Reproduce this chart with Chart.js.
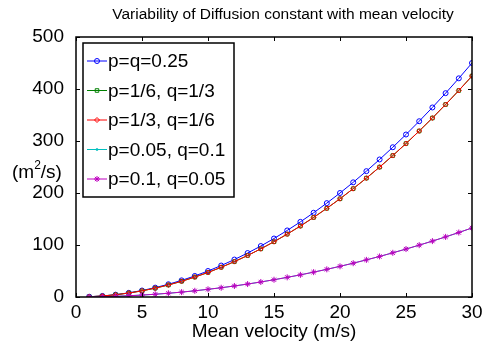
<!DOCTYPE html>
<html>
<head>
<meta charset="utf-8">
<script src="https://cdn.jsdelivr.net/npm/chart.js@4.4.1/dist/chart.umd.min.js"></script>
<style>
  html, body { margin: 0; padding: 0; background: #fff; }
  #wrap { width: 490px; height: 344px; }
</style>
</head>
<body>
<div id="wrap"><canvas id="grafico" width="490" height="344"></canvas></div>
<script>
// velocidade media (m/s)
const velocidades = [1, 2, 3, 4, 5, 6, 7, 8, 9, 10, 11, 12, 13, 14, 15,
  16, 17, 18, 19, 20, 21, 22, 23, 24, 25, 26, 27, 28, 29, 30];

// valores (m^2/s)
const serieQuarto = [0.5, 2, 4.5, 8, 12.5, 18, 24.5, 32, 40.5, 50, 60.5, 72, 84.5, 98, 112.5,
  128, 144.5, 162, 180.5, 200, 220.5, 242, 264.5, 288, 312.5, 338, 364.5, 392, 420.5, 450];
const serieSextoTerco = [0.47, 1.9, 4.3, 7.6, 11.8, 17, 23.1, 30.2, 38.3, 47.2, 57.1, 68, 79.8, 92.6, 106.3,
  120.9, 136.5, 153, 170.5, 188.9, 208.3, 228.6, 249.8, 272, 295.1, 319.2, 344.2, 370.2, 397.1, 425];
const serieTercoSexto = serieSextoTerco.slice();
const serieBaixaA = [0.15, 0.6, 1.3, 2.4, 3.7, 5.3, 7.2, 9.4, 11.9, 14.8, 17.8, 21.2, 24.9, 28.9, 33.2,
  37.8, 42.6, 47.8, 53.2, 59, 65, 71.4, 78, 85, 92.2, 99.7, 107.5, 115.6, 124, 132.8];
const serieBaixaB = serieBaixaA.slice();

const rotulos = ['p=q=0.25', 'p=1/6, q=1/3', 'p=1/3, q=1/6', 'p=0.05, q=0.1', 'p=0.1, q=0.05'];
const ticksX = [0, 5, 10, 15, 20, 25, 30];
const ticksY = [0, 100, 200, 300, 400, 500];

const fonte = '"Liberation Sans", Arial, sans-serif';

function serie(i, dados, cor, estilo, raio, ordem) {
  return {
    label: rotulos[i],
    data: velocidades.map((v, k) => ({ x: v, y: dados[k] })),
    borderColor: cor,
    backgroundColor: cor,
    borderWidth: 1,
    pointStyle: estilo,
    pointRadius: raio,
    pointBorderColor: cor,
    pointBackgroundColor: 'rgba(0,0,0,0)',
    pointBorderWidth: 1,
    order: ordem
  };
}

// caixa, ticks internos, titulo, legenda e rotulos no estilo MATLAB
const pluginMatlab = {
  id: 'matlab',
  afterDraw(chart) {
    const ctx = chart.ctx;
    const a = chart.chartArea;
    const sx = chart.scales.x, sy = chart.scales.y;
    ctx.save();
    ctx.strokeStyle = '#000';
    ctx.lineWidth = 1;
    ctx.beginPath();
    ticksX.forEach(t => {
      const px = Math.round(sx.getPixelForValue(t)) + 0.5;
      ctx.moveTo(px, a.bottom); ctx.lineTo(px, a.bottom - 4);
      ctx.moveTo(px, a.top); ctx.lineTo(px, a.top + 4);
    });
    ticksY.forEach(t => {
      const py = Math.round(sy.getPixelForValue(t)) + 0.5;
      ctx.moveTo(a.left, py); ctx.lineTo(a.left + 4, py);
      ctx.moveTo(a.right, py); ctx.lineTo(a.right - 4, py);
    });
    ctx.stroke();
    ctx.lineWidth = 1.5;
    ctx.strokeRect(a.left, a.top, a.right - a.left, a.bottom - a.top);

    // titulo
    ctx.fillStyle = '#000';
    ctx.font = '15.5px ' + fonte;
    ctx.textAlign = 'center';
    ctx.textBaseline = 'alphabetic';
    ctx.fillText('Variability of Diffusion constant with mean velocity', 283, 19);

    // rotulo eixo x
    ctx.font = '19px ' + fonte;
    ctx.fillText('Mean velocity (m/s)', 274, 337);

    // rotulo eixo y (horizontal)
    ctx.textAlign = 'left';
    let x = 12;
    const yb = 178;
    ctx.fillText('(m', x, yb); x += ctx.measureText('(m').width;
    ctx.font = '12px ' + fonte;
    ctx.fillText('2', x, yb - 9); x += ctx.measureText('2').width;
    ctx.font = '19px ' + fonte;
    ctx.fillText('/s)', x, yb);

    // legenda
    const lx = 83, ly = 43, lw = 151, lh = 154;
    ctx.fillStyle = '#fff';
    ctx.fillRect(lx, ly, lw, lh);
    ctx.lineWidth = 1.5;
    ctx.strokeRect(lx, ly, lw, lh);
    chart.data.datasets.forEach((ds, i) => {
      const cy = 61 + i * 29.5;
      ctx.strokeStyle = ds.borderColor;
      ctx.fillStyle = 'rgba(0,0,0,0)';
      ctx.lineWidth = 1;
      ctx.beginPath();
      ctx.moveTo(87, cy); ctx.lineTo(107, cy);
      ctx.stroke();
      Chart.helpers.drawPoint(ctx, {
        pointStyle: ds.pointStyle, radius: ds.pointRadius, rotation: 0, borderWidth: 1
      }, 97, cy);
      ctx.fillStyle = '#000';
      ctx.font = '19px ' + fonte;
      ctx.textBaseline = 'middle';
      ctx.fillText(ds.label, 108, cy + 1);
    });
    ctx.restore();
  }
};

new Chart(document.getElementById('grafico'), {
  type: 'line',
  data: {
    datasets: [
      serie(0, serieQuarto, '#0000ff', 'circle', 2.5, 5),
      serie(1, serieSextoTerco, '#008000', 'rect', 2.5, 4),
      serie(2, serieTercoSexto, '#ff0000', 'rectRot', 2.5, 3),
      serie(3, serieBaixaA, '#00bfbf', 'circle', 1, 2),
      serie(4, serieBaixaB, '#bf00bf', 'star', 3, 1)
    ]
  },
  options: {
    responsive: false,
    animation: false,
    layout: { padding: { top: 37, right: 18, left: 0, bottom: 0 } },
    plugins: { legend: { display: false }, tooltip: { enabled: false } },
    scales: {
      x: {
        type: 'linear', min: 0, max: 30,
        afterFit(s) { s.height = 47; },
        grid: { display: false },
        border: { display: false },
        ticks: { stepSize: 5, color: '#000', font: { family: fonte, size: 19 }, padding: -4, maxRotation: 0 }
      },
      y: {
        min: 0, max: 500,
        afterFit(s) { s.width = 76; },
        grid: { display: false },
        border: { display: false },
        ticks: { stepSize: 100, color: '#000', font: { family: fonte, size: 19 }, padding: 4 }
      }
    }
  },
  plugins: [pluginMatlab]
});
</script>
</body>
</html>
